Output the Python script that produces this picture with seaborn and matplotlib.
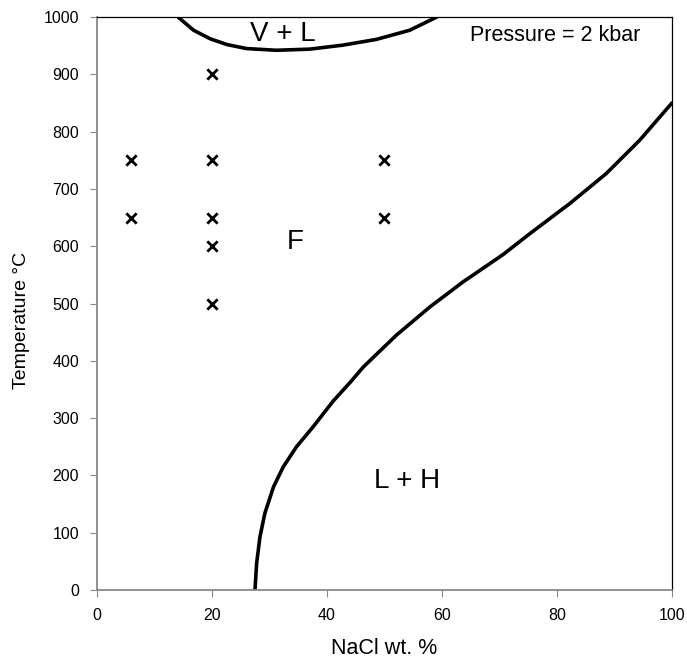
import matplotlib
matplotlib.use("Agg")
import matplotlib.pyplot as plt
import seaborn as sns

sns.set_style("white")
plt.rcParams['font.family'] = ['Liberation Sans', 'DejaVu Sans']
plt.rcParams['text.color'] = 'black'
plt.rcParams['axes.labelcolor'] = 'black'
plt.rcParams['xtick.color'] = 'black'
plt.rcParams['ytick.color'] = 'black'

# Halite liquidus (L + H boundary)
liq_x = [27.48, 27.77, 28.35, 29.2, 30.7, 32.4, 34.7, 37.6, 41.1, 44.0, 46.3, 52.1, 57.9, 63.7, 67.8, 70.7, 75.3, 82.3, 88.6, 94.4, 100.0]
liq_t = [0, 47, 93, 134, 180, 215, 250, 285, 330, 362, 389, 445, 494, 538, 566, 586, 622, 675, 727, 785, 850]

# Vapour + liquid solvus
sol_x = [14.1, 16.8, 19.7, 22.6, 26.0, 31.2, 37.0, 42.8, 48.6, 54.4, 59.1]
sol_t = [1000, 977, 962, 952, 945, 942, 944, 951, 961, 977, 1000]

# Experimental points
pts_x = [6, 6, 20, 20, 20, 20, 20, 50, 50]
pts_t = [650, 750, 500, 600, 650, 750, 900, 650, 750]

xticks = [0, 20, 40, 60, 80, 100]
yticks = [0, 100, 200, 300, 400, 500, 600, 700, 800, 900, 1000]

fig = plt.figure(figsize=(6.87, 6.58), dpi=100)
ax = fig.add_axes([0.1412, 0.1033, 0.8368, 0.8708])

sns.lineplot(x=liq_x, y=liq_t, sort=False, color='black', lw=2.6, ax=ax)
sns.lineplot(x=sol_x, y=sol_t, sort=False, color='black', lw=2.6, ax=ax)
sns.scatterplot(x=pts_x, y=pts_t, marker='x', s=55, color='black', linewidth=2.0, ax=ax)

ax.set_xlim(0, 100)
ax.set_ylim(0, 1000)
ax.set_xticks(xticks)
ax.set_yticks(yticks)
ax.tick_params(axis='both', labelsize=11.5, length=5, color='#888888', direction='out')
ax.tick_params(axis='x', bottom=True, pad=8)
ax.tick_params(axis='y', left=True, pad=8)

for side in ['left', 'bottom']:
    ax.spines[side].set_color('#888888')
    ax.spines[side].set_linewidth(1.3)
for side in ['top', 'right']:
    ax.spines[side].set_color('black')
    ax.spines[side].set_linewidth(0.9)

ax.set_xlabel('NaCl wt. %', fontsize=15.5)
ax.set_ylabel('Temperature °C', fontsize=14)
ax.xaxis.set_label_coords(0.5, -0.083)
ax.yaxis.set_label_coords(-0.117, 0.471)

ax.text(32.3, 970, 'V + L', fontsize=20, ha='center', va='center')
ax.text(34.4, 607, 'F', fontsize=20, ha='center', va='center')
ax.text(54.0, 190, 'L + H', fontsize=20, ha='center', va='center')
ax.text(79.7, 967, 'Pressure = 2 kbar', fontsize=15.5, ha='center', va='center')

fig.savefig('out.png', dpi=100)
